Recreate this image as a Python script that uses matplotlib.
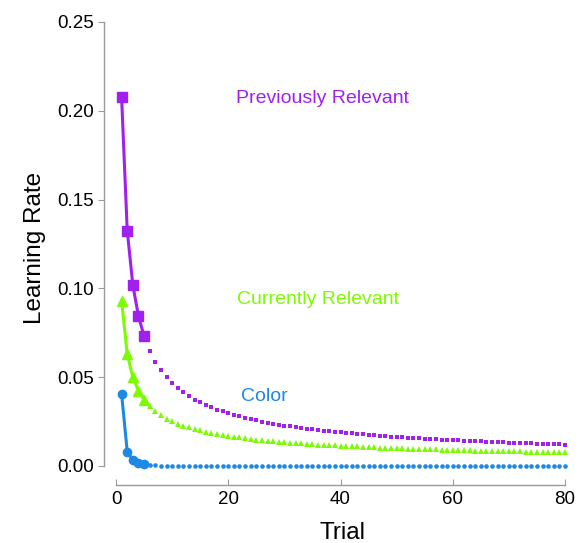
import matplotlib
matplotlib.use("Agg")
import matplotlib.pyplot as plt
import numpy as np

plt.rcParams['font.family'] = ['Liberation Sans', 'DejaVu Sans']

trials = list(range(1, 81))

prev_relevant = [
    0.2075, 0.1326, 0.1018, 0.0845, 0.0731, 0.0649, 0.0587, 0.0538, 0.0499, 0.0466,
    0.0438, 0.0414, 0.0393, 0.0374, 0.0358, 0.0343, 0.0330, 0.0318, 0.0307, 0.0297,
    0.0288, 0.0279, 0.0271, 0.0264, 0.0257, 0.0250, 0.0244, 0.0239, 0.0233, 0.0228,
    0.0223, 0.0219, 0.0214, 0.0210, 0.0206, 0.0202, 0.0199, 0.0196, 0.0192, 0.0189,
    0.0186, 0.0183, 0.0180, 0.0178, 0.0175, 0.0173, 0.0170, 0.0168, 0.0166, 0.0164,
    0.0161, 0.0159, 0.0157, 0.0156, 0.0154, 0.0152, 0.0150, 0.0149, 0.0147, 0.0145,
    0.0144, 0.0142, 0.0141, 0.0139, 0.0138, 0.0137, 0.0135, 0.0134, 0.0133, 0.0131,
    0.0130, 0.0129, 0.0128, 0.0127, 0.0126, 0.0125, 0.0124, 0.0123, 0.0122, 0.0121,
]

curr_relevant = [
    0.0930, 0.0630, 0.0500, 0.0424, 0.0374, 0.0337, 0.0308, 0.0286, 0.0267, 0.0252,
    0.0238, 0.0227, 0.0217, 0.0208, 0.0200, 0.0193, 0.0186, 0.0180, 0.0175, 0.0170,
    0.0165, 0.0161, 0.0157, 0.0153, 0.0149, 0.0146, 0.0143, 0.0140, 0.0137, 0.0135,
    0.0132, 0.0130, 0.0127, 0.0125, 0.0123, 0.0121, 0.0119, 0.0118, 0.0116, 0.0114,
    0.0113, 0.0111, 0.0110, 0.0108, 0.0107, 0.0105, 0.0104, 0.0103, 0.0102, 0.0101,
    0.0099, 0.0098, 0.0097, 0.0096, 0.0095, 0.0094, 0.0093, 0.0092, 0.0091, 0.0091,
    0.0090, 0.0089, 0.0088, 0.0087, 0.0087, 0.0086, 0.0085, 0.0084, 0.0084, 0.0083,
    0.0082, 0.0082, 0.0081, 0.0080, 0.0080, 0.0079, 0.0079, 0.0078, 0.0077, 0.0077,
]

color_rate = [
    0.0405, 0.0081, 0.0034, 0.0017, 0.0010, 0.0004, 0.0003, 0.0002, 0.0002, 0.0002,
    0.0002, 0.0002, 0.0002, 0.0002, 0.0002, 0.0002, 0.0002, 0.0002, 0.0002, 0.0002,
    0.0002, 0.0002, 0.0002, 0.0002, 0.0002, 0.0002, 0.0002, 0.0002, 0.0002, 0.0002,
    0.0002, 0.0002, 0.0002, 0.0002, 0.0002, 0.0002, 0.0002, 0.0002, 0.0002, 0.0002,
    0.0002, 0.0002, 0.0002, 0.0002, 0.0002, 0.0002, 0.0002, 0.0002, 0.0002, 0.0002,
    0.0002, 0.0002, 0.0002, 0.0002, 0.0002, 0.0002, 0.0002, 0.0002, 0.0002, 0.0002,
    0.0002, 0.0002, 0.0002, 0.0002, 0.0002, 0.0002, 0.0002, 0.0002, 0.0002, 0.0002,
    0.0002, 0.0002, 0.0002, 0.0002, 0.0002, 0.0002, 0.0002, 0.0002, 0.0002, 0.0002,
]

series_names = ["Previously Relevant", "Currently Relevant", "Color"]
x_ticks = [0, 20, 40, 60, 80]
y_ticks = [0.00, 0.05, 0.10, 0.15, 0.20, 0.25]

purple = "#a020f0"
green = "#7cfc00"
blue = "#1e88e5"

fig = plt.figure(figsize=(5.79, 5.43), dpi=100)
ax = fig.add_axes([116 / 579, 77 / 543, 449 / 579, 444 / 543])

n_big = 5
specs = [
    (prev_relevant, purple, "s", 6.8, 3.3),
    (curr_relevant, green, "^", 7.8, 3.8),
    (color_rate, blue, "o", 6.0, 3.3),
]
for vals, col, mk, big, small in specs:
    ax.plot(trials[:n_big], vals[:n_big], color=col, lw=2.2, marker=mk,
            markersize=big, clip_on=False, zorder=3)
    ax.plot(trials[n_big:], vals[n_big:], color=col, lw=0, marker=mk,
            markersize=small, markeredgewidth=0, clip_on=False, zorder=3)

ax.text(21.4, 0.2072, series_names[0], color=purple, fontsize=14, va='center', ha='left')
ax.text(21.6, 0.0935, series_names[1], color=green, fontsize=14, va='center', ha='left')
ax.text(22.2, 0.0389, series_names[2], color=blue, fontsize=14, va='center', ha='left')

ax.set_xlim(0, 80)
ax.set_ylim(0, 0.25)
ax.set_xticks(x_ticks)
ax.set_yticks(y_ticks)
ax.set_yticklabels([f"{v:.2f}" for v in y_ticks])

for s in ["top", "right"]:
    ax.spines[s].set_visible(False)
ax.spines["left"].set_position(("outward", 8.6))
ax.spines["bottom"].set_position(("outward", 13.7))
ax.spines["left"].set_bounds(0, 0.25)
ax.spines["bottom"].set_bounds(0, 80)
for s in ["left", "bottom"]:
    ax.spines[s].set_color("#9a9a9a")
    ax.spines[s].set_linewidth(1.0)

ax.tick_params(axis='y', direction='out', length=4, color="#9a9a9a", labelsize=13.5, pad=3)
ax.tick_params(axis='x', direction='in', length=4, color="#9a9a9a", labelsize=13.5, pad=4)

fig.text(35 / 579, 1 - 248 / 543, "Learning Rate", rotation=90, fontsize=17.5,
         ha='center', va='center')
fig.text(342 / 579, 1 - 539 / 543, "Trial", fontsize=17.5, ha='center', va='baseline')

fig.savefig("out.png", dpi=100)
